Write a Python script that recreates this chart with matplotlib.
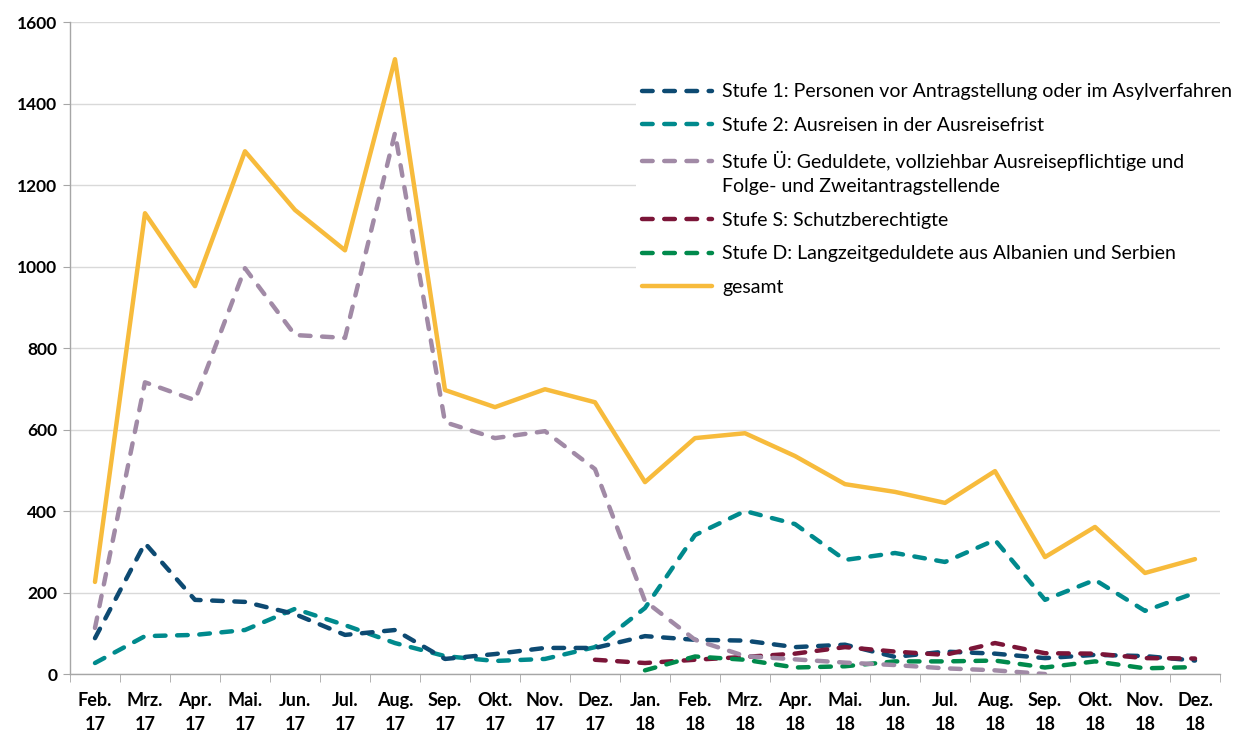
import matplotlib
matplotlib.use("Agg")
import matplotlib.pyplot as plt
from matplotlib.lines import Line2D
from matplotlib.legend_handler import HandlerLine2D

plt.rcParams['font.family'] = ['Lato', 'DejaVu Sans']

months = ["Feb.\n17", "Mrz.\n17", "Apr.\n17", "Mai.\n17", "Jun.\n17", "Jul.\n17", "Aug.\n17",
          "Sep.\n17", "Okt.\n17", "Nov.\n17", "Dez.\n17",
          "Jan.\n18", "Feb.\n18", "Mrz.\n18", "Apr.\n18", "Mai.\n18", "Jun.\n18", "Jul.\n18",
          "Aug.\n18", "Sep.\n18", "Okt.\n18", "Nov.\n18", "Dez.\n18"]

stufe1 = [88, 321, 182, 177, 147, 96, 108, 37, 49, 64, 64,
          93, 84, 82, 66, 72, 42, 55, 50, 39, 47, 44, 33]
stufe2 = [27, 93, 96, 108, 160, 120, 76, 44, 32, 37, 66,
          162, 341, 400, 368, 280, 297, 275, 329, 182, 231, 155, 199]
stufe_ue = [113, 716, 672, 996, 832, 825, 1328, 618, 579, 596, 503,
            179, 84, 44, 36, 28, 22, 14, 9, 0]
stufe_s_start = 10
stufe_s = [35, 27, 35, 42, 50, 66, 55, 47, 76, 51, 50, 39, 38]
stufe_d_start = 11
stufe_d = [9, 43, 35, 16, 19, 31, 31, 33, 16, 31, 14, 17]
gesamt = [226, 1131, 952, 1283, 1139, 1040, 1509, 697, 655, 699, 667,
          471, 579, 591, 535, 466, 447, 420, 498, 287, 361, 248, 282]

labels = ["Stufe 1: Personen vor Antragstellung oder im Asylverfahren",
          "Stufe 2: Ausreisen in der Ausreisefrist",
          "Stufe Ü: Geduldete, vollziehbar Ausreisepflichtige und\nFolge- und Zweitantragstellende",
          "Stufe S: Schutzberechtigte",
          "Stufe D: Langzeitgeduldete aus Albanien und Serbien",
          "gesamt"]
colors = ["#0d4a72", "#008a8d", "#a18aa6", "#7b1538", "#008a4c", "#f7bb3c"]

fig = plt.figure(figsize=(12.43, 7.38), dpi=100)
ax = fig.add_axes([0.0563, 0.0867, 0.9252, 0.8833])

lw = 3.2
dash = (0, (2.4, 2.6))
x = list(range(len(months)))

def dl(xs, ys, c, z):
    ax.plot(xs, ys, color=c, lw=lw, linestyle=dash, dash_capstyle='round',
            solid_capstyle='round', zorder=z)

dl(x, stufe1, colors[0], 4)
dl(x, stufe2, colors[1], 3)
dl(x[:len(stufe_ue)], stufe_ue, colors[2], 5)
dl(x[stufe_s_start:stufe_s_start + len(stufe_s)], stufe_s, colors[3], 4)
dl(x[stufe_d_start:stufe_d_start + len(stufe_d)], stufe_d, colors[4], 4)
ax.plot(x, gesamt, color=colors[5], lw=lw, solid_capstyle='round', zorder=6)

ax.set_xlim(-0.5, len(months) - 0.5)
ax.set_ylim(0, 1600)
ax.set_yticks(range(0, 1601, 200))
ax.set_yticklabels([str(v) for v in range(0, 1601, 200)], fontweight='bold', fontsize=12.5)
ax.set_xticks(x)
ax.set_xticklabels(months, fontweight='bold', fontsize=13, linespacing=1.5)
ax.set_xticks([i - 0.5 for i in range(len(months) + 1)], minor=True)
ax.tick_params(axis='x', which='major', length=0, pad=13)
ax.tick_params(axis='x', which='minor', length=6, color='#a6a6a6')
ax.tick_params(axis='y', length=5, color='#a6a6a6', pad=4)
ax.grid(axis='y', color='#d9d9d9', lw=1.0, zorder=0)
ax.set_axisbelow(True)
for s in ['top', 'right']:
    ax.spines[s].set_visible(False)
for s in ['left', 'bottom']:
    ax.spines[s].set_color('#a6a6a6')
    ax.spines[s].set_linewidth(1.0)


class TopHandler(HandlerLine2D):
    def __init__(self, shift, **kw):
        super().__init__(**kw)
        self.shift = shift

    def create_artists(self, legend, orig_handle, xdescent, ydescent, width, height,
                       fontsize, trans):
        arts = super().create_artists(legend, orig_handle, xdescent, ydescent,
                                      width, height, fontsize, trans)
        for a in arts:
            yd = a.get_ydata()
            a.set_ydata([v + self.shift for v in yd])
        return arts


handles = []
for i, c in enumerate(colors):
    if i < 5:
        handles.append(Line2D([], [], color=c, lw=lw, linestyle=dash, dash_capstyle='round'))
    else:
        handles.append(Line2D([], [], color=c, lw=lw, solid_capstyle='round'))
leg = ax.legend(handles, labels, loc='upper left', bbox_to_anchor=(0.492, 0.915),
                frameon=True, fontsize=14, handlelength=3.6, handletextpad=0.55,
                labelspacing=0.85, borderaxespad=0, borderpad=0.3,
                handler_map={handles[2]: TopHandler(9.0)})
leg.get_texts()[2].set_linespacing(1.55)
leg.get_frame().set_facecolor('white')
leg.get_frame().set_edgecolor('none')
leg.get_frame().set_alpha(1)
leg.set_zorder(10)

fig.savefig("out.png", dpi=100)
